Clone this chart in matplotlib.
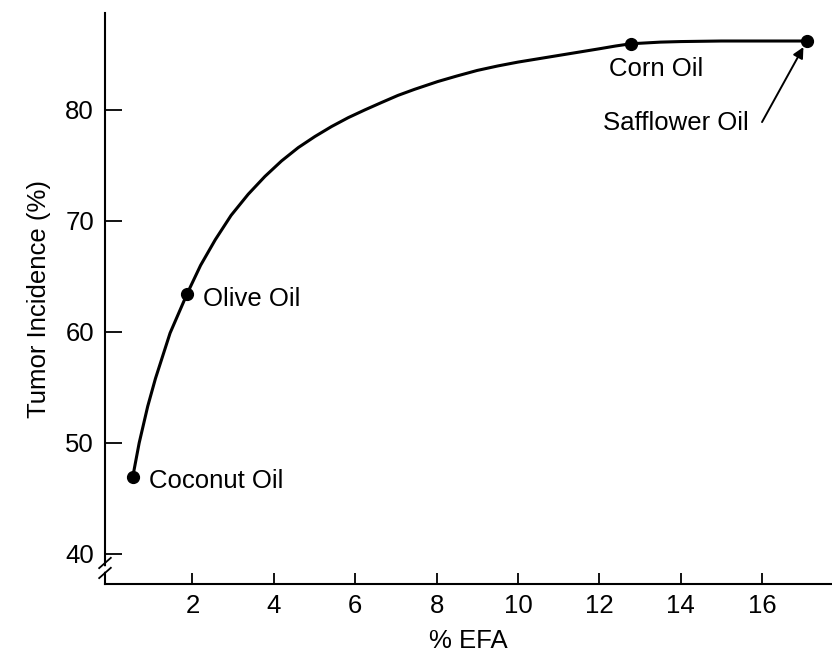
import matplotlib.pyplot as plt

plt.rcParams['font.family'] = ['Liberation Sans', 'DejaVu Sans']

# curve
curve_x = [0.53, 0.69, 0.9, 1.09, 1.45, 1.87, 2.2, 2.56, 2.95, 3.37, 3.78, 4.19,
           4.6, 5.01, 5.42, 5.83, 6.24, 6.64, 7.05, 7.46, 8.03, 8.5, 9.0, 9.5,
           10.0, 10.5, 11.0, 11.5, 12.0, 12.4, 12.77, 13.5, 14.0, 15.0, 16.0, 17.1]
curve_y = [46.9, 50.0, 53.3, 55.8, 59.9, 63.45, 66.0, 68.3, 70.5, 72.4, 74.0, 75.4,
           76.6, 77.6, 78.5, 79.3, 80.0, 80.65, 81.3, 81.85, 82.55, 83.05, 83.55, 83.95,
           84.3, 84.6, 84.9, 85.2, 85.5, 85.75, 85.95, 86.1, 86.15, 86.2, 86.2, 86.2]

oils = ['Coconut Oil', 'Olive Oil', 'Corn Oil', 'Safflower Oil']
efa = [0.53, 1.87, 12.77, 17.1]
incidence = [46.9, 63.45, 85.95, 86.2]

xticks = [2, 4, 6, 8, 10, 12, 14, 16]
yticks = [40, 50, 60, 70, 80]

fig = plt.figure(figsize=(8.32, 6.56), dpi=100)
ax = fig.add_axes([0.1262, 0.1098, 0.8738, 0.870])

ax.plot(curve_x, curve_y, color='black', lw=2.2, solid_capstyle='round',
        solid_joinstyle='round')
ax.plot(efa, incidence, 'o', color='black', markersize=8.5)

fs = 18.5
ax.text(0.92, 46.6, oils[0], fontsize=fs, va='center', ha='left')
ax.text(2.27, 63.0, oils[1], fontsize=fs, va='center', ha='left')
ax.text(12.23, 83.7, oils[2], fontsize=fs, va='center', ha='left')
ax.text(12.1, 78.85, oils[3], fontsize=fs, va='center', ha='left')
ax.annotate('', xy=(efa[3], incidence[3]), xytext=(16.0, 78.9),
            arrowprops=dict(arrowstyle='-|>', color='black', lw=1.4,
                            mutation_scale=16, shrinkA=0, shrinkB=5))

ax.set_xlim(-0.15, 17.72)
ax.set_ylim(37.3, 88.7)
ax.set_xticks(xticks)
ax.set_yticks(yticks)
ax.tick_params(axis='both', direction='in', labelsize=fs, width=1.3, color='black')
ax.tick_params(axis='y', length=12, pad=8)
ax.tick_params(axis='x', length=8, pad=7)

for side in ['top', 'right']:
    ax.spines[side].set_visible(False)
for side in ['left', 'bottom']:
    ax.spines[side].set_linewidth(1.5)

# axis break marks on the y axis
ax.plot([-0.012, 0.012], [0.027, 0.027], transform=ax.transAxes, color='white',
        lw=4, clip_on=False, zorder=5)
for yc in [0.0193, 0.0368]:
    ax.plot([-0.008, 0.008], [yc - 0.009, yc + 0.009], transform=ax.transAxes,
            color='black', lw=1.3, clip_on=False, zorder=6)

ax.set_xlabel('% EFA', fontsize=fs, labelpad=8)
ax.set_ylabel('Tumor Incidence (%)', fontsize=fs, labelpad=10)

plt.savefig('out.png')
